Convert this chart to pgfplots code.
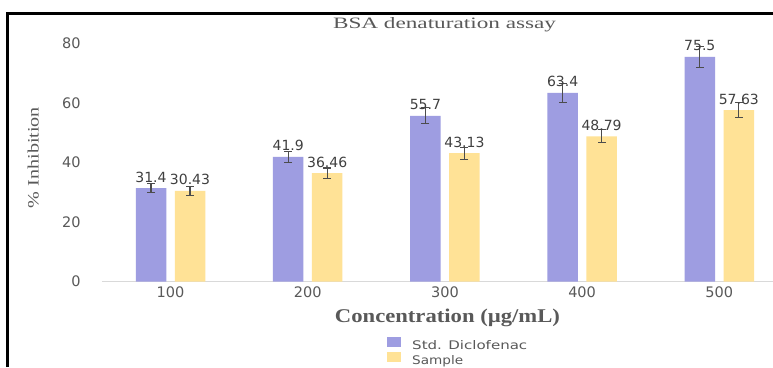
\documentclass[border=0pt]{standalone}
\usepackage{fontspec}
\setmainfont{Liberation Serif}
\newfontfamily\dejavu{DejaVu Sans}
\usepackage{graphicx}
\usepackage{pgfplots}
\pgfplotsset{compat=1.18}
\definecolor{barblue}{HTML}{9E9DE1}
\definecolor{baryel}{HTML}{FFE296}
\definecolor{txtgray}{HTML}{595959}
\definecolor{lblgray}{HTML}{404040}
\begin{document}
\begin{tikzpicture}[x=1pt,y=1pt]
\useasboundingbox (0,0) rectangle (773,367);
\fill[white] (0,0) rectangle (773,367);
\begin{axis}[
  at={(101.9pt,85.5pt)}, anchor=south west,
  x=137.2pt, y=2.975pt,
  xmin=-0.5, xmax=4.39, ymin=0, ymax=85,
  ybar, bar width=30.5pt,
  clip=false,
  axis x line*=bottom, axis y line*=left,
  x axis line style={draw=black!15, line width=1.5pt, -},
  y axis line style={draw=none},
  xtick={0,1,2,3,4}, xticklabels={100,200,300,400,500},
  ytick={0,20,40,60,80},
  major tick length=0pt,
  /pgf/number format/assume math mode=true,
  tick label style={font=\dejavu\fontsize{14.5}{16}\selectfont, text=txtgray, inner sep=0pt},
  xticklabel style={anchor=base, yshift=-15.5pt},
  yticklabel style={anchor=east, xshift=-21pt},
  nodes near coords,
  every node near coord/.append style={font=\dejavu\fontsize{14}{16}\selectfont, text=lblgray, anchor=base, inner sep=0pt, yshift=6pt},
  title={\resizebox{223pt}{11pt}{BSA denaturation assay}},
  title style={at={(axis description cs:0.5107,0.9786)}, anchor=base, text=txtgray, inner sep=0pt},
  xlabel={\resizebox{225pt}{13.5pt}{\bfseries Concentration (µg/mL)}},
  xlabel style={at={(axis description cs:0.5151,-0.1629)}, anchor=base, text=txtgray, inner sep=0pt},
  ylabel={\resizebox{101pt}{11pt}{\% Inhibition}},
  ylabel style={at={(axis description cs:-0.0945,0.4903)}, anchor=base, text=txtgray, inner sep=0pt},
  legend style={at={(axis description cs:0.425,-0.2195)}, anchor=north west, draw=none, fill=none, inner sep=0pt, row sep=1pt, column sep=11pt, nodes={inner sep=0pt, text=txtgray}},
  legend cell align=left,
  legend image code/.code={\fill[#1] (0pt,-1.5pt) rectangle (14pt,8.5pt);},
]
\addplot[fill=barblue, draw=none, bar shift=-19.5pt,
  error bars/.cd, y dir=both, y explicit,
  error bar style={line width=1.1pt, draw=black!70},
  error mark options={rotate=90, mark size=4pt, line width=1.1pt, draw=black!70}]
  coordinates {(0,31.4) +- (0,1.4) (1,41.9) +- (0,1.8) (2,55.7) +- (0,2.7) (3,63.4) +- (0,3.2) (4,75.5) +- (0,3.5)};
\addplot[fill=baryel, draw=none, bar shift=19.5pt,
  error bars/.cd, y dir=both, y explicit,
  error bar style={line width=1.1pt, draw=black!70},
  error mark options={rotate=90, mark size=4pt, line width=1.1pt, draw=black!70}]
  coordinates {(0,30.43) +- (0,1.5) (1,36.46) +- (0,1.7) (2,43.13) +- (0,2.0) (3,48.79) +- (0,2.2) (4,57.63) +- (0,2.5)};
\legend{\resizebox{115pt}{9pt}{\dejavu Std. Diclofenac},\resizebox{51pt}{9pt}{\dejavu Sample}}
\end{axis}
\draw[line width=3pt, black] (7.5,0) -- (7.5,353.7) -- (773,353.7);
\end{tikzpicture}
\end{document}
